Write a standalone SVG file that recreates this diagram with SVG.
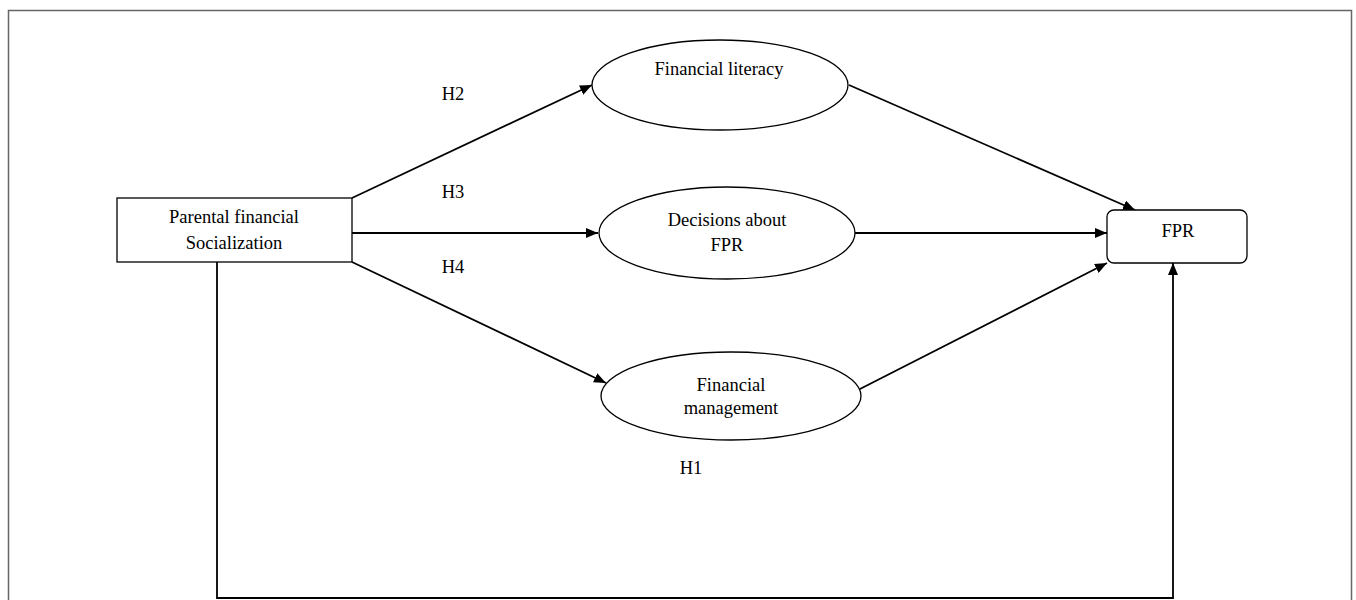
<svg xmlns="http://www.w3.org/2000/svg" width="1356" height="600" viewBox="0 0 1356 600">
<defs>
<style>
.n{fill:#fff;stroke:#000;stroke-width:1.3}
.t{font-family:"Liberation Serif","Times New Roman",serif;font-size:18.5px;fill:#000;text-anchor:middle}
.c{fill:none;stroke:#000;stroke-width:1.8;marker-end:url(#ah)}
</style>
<marker id="ah" viewBox="0 0 12 10" refX="12" refY="5" markerWidth="12" markerHeight="10" markerUnits="userSpaceOnUse" orient="auto">
<path d="M0,0 L12,5 L0,10 z" fill="#000"/>
</marker>
</defs>
<rect x="0" y="0" width="1356" height="600" fill="#fff"/>
<rect x="8.5" y="10.5" width="1343" height="620" fill="none" stroke="#666" stroke-width="1.5"/>
<g id="connectors">
<path class="c" d="M352,198 L592,85"/>
<path class="c" d="M352,233 L598,233"/>
<path class="c" d="M352,262 L606,383"/>
<path class="c" d="M849,85 L1135,210"/>
<path class="c" d="M855,233 L1107,233"/>
<path class="c" d="M858,390 L1107,263"/>
<path class="c" d="M217,262 L217,598 L1173,598 L1173,263"/>
<text class="t" x="453" y="100">H2</text>
<text class="t" x="453" y="198">H3</text>
<text class="t" x="453" y="273">H4</text>
<text class="t" x="691" y="474">H1</text>
</g>
<g id="parental">
<rect class="n" x="117" y="198" width="235" height="64"/>
<text class="t" x="234" y="223">Parental financial</text>
<text class="t" x="234" y="249">Socialization</text>
</g>
<g id="literacy">
<ellipse class="n" cx="720" cy="85" rx="128" ry="45"/>
<text class="t" x="719" y="75">Financial literacy</text>
</g>
<g id="decisions">
<ellipse class="n" cx="727" cy="233" rx="128" ry="46"/>
<text class="t" x="727" y="226">Decisions about</text>
<text class="t" x="727" y="251">FPR</text>
</g>
<g id="management">
<ellipse class="n" cx="731" cy="396" rx="130" ry="44"/>
<text class="t" x="731" y="391">Financial</text>
<text class="t" x="731" y="414">management</text>
</g>
<g id="fpr">
<rect class="n" x="1107" y="210" width="140" height="53" rx="7"/>
<text class="t" x="1178" y="237">FPR</text>
</g>
</svg>
